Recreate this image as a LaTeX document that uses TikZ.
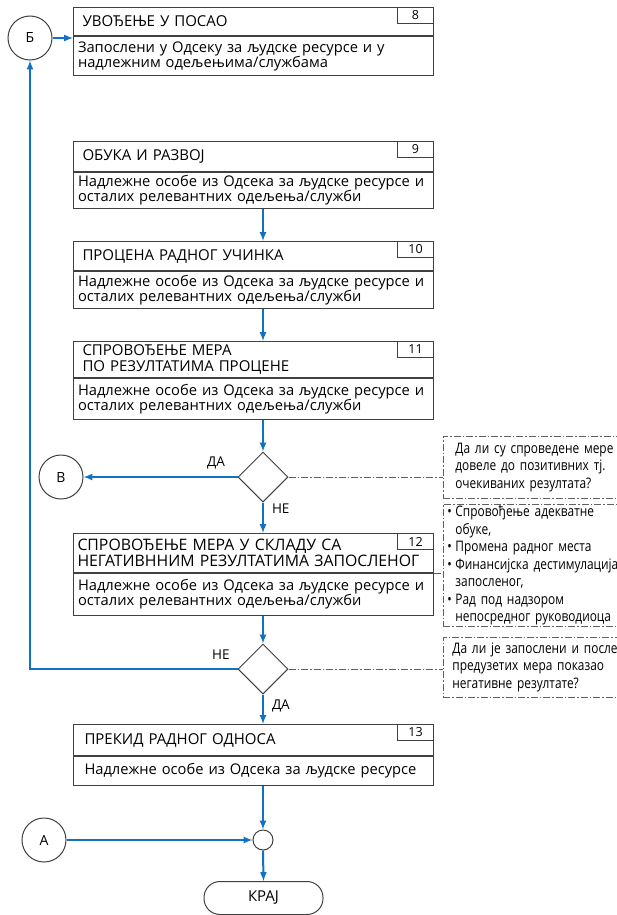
\documentclass[tikz,border=0pt]{standalone}
\usepackage{fontspec}
\setmainfont{Open Sans}
\newfontfamily\notefont[FakeStretch=0.82]{Open Sans}
\usepackage{xcolor}
\usepackage{tikz}
\usetikzlibrary{shapes,shapes.geometric}
\usetikzlibrary{calc,arrows,positioning}
\definecolor{flowblue}{RGB}{16,114,196}
\definecolor{linegray}{RGB}{64,64,64}
\definecolor{notegray}{RGB}{96,96,96}
\newcommand{\nbul}{\makebox[8pt][l]{•}}
\newcommand{\nind}{\hspace*{8pt}}
\tikzset{
  proc_t/.style = {rectangle, draw=linegray, line width=1pt, anchor=north west, text width=342pt, inner xsep=9pt, inner ysep=0pt, align=left, font=\fontsize{15}{16}\selectfont},
  proc_b/.style = {rectangle, draw=linegray, line width=1pt, text width=351pt, inner xsep=4.5pt, inner ysep=0pt, align=left, font=\fontsize{14.7}{15}\selectfont},
  proc_n/.style = {rectangle, draw=linegray, line width=1pt, anchor=north east, minimum width=36pt, minimum height=16pt, inner sep=0pt, font=\fontsize{12.5}{12.5}\selectfont},
  dec_n/.style = {diamond, draw=linegray, line width=1pt, minimum width=50pt, minimum height=50pt, inner sep=0pt},
  conn_n/.style = {circle, draw=linegray, line width=1pt, minimum size=44pt, inner sep=0pt, font=\fontsize{14}{14}\selectfont},
  join_n/.style = {circle, draw=linegray, line width=1pt, minimum size=20pt, inner sep=0pt},
  end_n/.style = {rectangle, rounded corners=16pt, draw=linegray, line width=1pt, minimum width=119pt, minimum height=33pt, font=\fontsize{15}{15}\selectfont},
  note_line/.style = {draw=notegray, line width=0.8pt, dash pattern=on 7pt off 2pt on 1.5pt off 2pt},
  note_n/.style = {rectangle, note_line, anchor=north west, text width=210pt, inner xsep=8pt, inner ysep=0pt, align=left, font=\notefont\fontsize{14.5}{17.5}\selectfont},
  flow/.style = {draw=flowblue, line width=2pt, -latex},
  lbl/.style = {inner sep=0pt, font=\fontsize{13.5}{13.5}\selectfont}
}
\begin{document}
\begin{tikzpicture}[x=1pt,y=-1pt]
	\useasboundingbox (0,0) rectangle (616,915);
	\node[proc_t, minimum height=28pt] (t8) at (73,7) {УВОЂЕЊЕ У ПОСАО};
	\node[proc_b, below=0pt of t8, minimum height=39pt] (b8) {Запослени у Одсеку за људске ресурсе и у\\надлежним одељењима/службама};
	\node[proc_n] (n8) at (t8.north east) {8};
	\node[proc_t, minimum height=30pt] (t9) at (73,141) {ОБУКА И РАЗВОЈ};
	\node[proc_b, below=0pt of t9, minimum height=36pt] (b9) {Надлежне особе из Одсека за људске ресурсе и\\осталих релевантних одељења/служби};
	\node[proc_n] (n9) at (t9.north east) {9};
	\node[proc_t, minimum height=29pt] (t10) at (73,241) {ПРОЦЕНА РАДНОГ УЧИНКА};
	\node[proc_b, below=0pt of t10, minimum height=37pt] (b10) {Надлежне особе из Одсека за људске ресурсе и\\осталих релевантних одељења/служби};
	\node[proc_n] (n10) at (t10.north east) {10};
	\node[proc_t, minimum height=36pt] (t11) at (73,341) {СПРОВОЂЕЊЕ МЕРА\\ПО РЕЗУЛТАТИМА ПРОЦЕНЕ};
	\node[proc_b, below=0pt of t11, minimum height=41pt] (b11) {Надлежне особе из Одсека за људске ресурсе и\\осталих релевантних одељења/служби};
	\node[proc_n] (n11) at (t11.north east) {11};
	\node[proc_t, minimum height=39pt, inner xsep=4pt, text width=352pt, font=\fontsize{15.8}{15.5}\selectfont] (t12) at (73,533) {СПРОВОЂЕЊЕ МЕРА У СКЛАДУ СА\\НЕГАТИВННИМ РЕЗУЛТАТИМА ЗАПОСЛЕНОГ};
	\node[proc_b, below=0pt of t12, minimum height=42pt] (b12) {Надлежне особе из Одсека за људске ресурсе и\\осталих релевантних одељења/служби};
	\node[proc_n] (n12) at (t12.north east) {12};
	\node[proc_t, minimum height=31pt, inner xsep=11pt, text width=338pt] (t13) at (73,724) {ПРЕКИД РАДНОГ ОДНОСА};
	\node[proc_b, below=0pt of t13, minimum height=29pt, inner xsep=11pt, text width=338pt] (b13) {Надлежне особе из Одсека за људске ресурсе};
	\node[proc_n] (n13) at (t13.north east) {13};
	\node[conn_n] (cB) at (30,38) {Б};
	\node[conn_n] (cV) at (61,477) {В};
	\node[conn_n] (cA) at (44,840) {А};
	\node[dec_n] (d1) at (263,477) {};
	\node[dec_n] (d2) at (263,669) {};
	\node[join_n] (jn) at (263,840) {};
	\node[end_n] (end) at (263.5,898) {КРАЈ};
	\node[note_n, minimum height=62pt, inner xsep=12pt] (q1) at (443,436) {Да ли су спроведене мере\\довеле до позитивних тј.\\очекиваних резултата?};
	\node[note_n, minimum height=122pt, inner xsep=4pt] (q2) at (443,504) {\nbul Спровођење адекватне\\\nind обуке,\\\nbul Промена радног места\\\nbul Финансијска дестимулација\\\nind запосленог,\\\nbul Рад под надзором\\\nind непосредног руководиоца};
	\node[note_n, minimum height=60pt, inner xsep=9pt] (q3) at (443,637) {Да ли је запослени и после\\предузетих мера показао\\негативне резултате?};
	\draw[flow] (cB.east) -- (cB.east -| t8.west);
	\draw[flow] (b9.south -| d1) -- (t10.north -| d1);
	\draw[flow] (b10.south -| d1) -- (t11.north -| d1);
	\draw[flow] (b11.south -| d1) -- (d1.north);
	\draw[flow] (d1.west) -- node[lbl, pos=0.14, above=7pt] {ДА} (cV.east);
	\draw[flow] (d1.south) -- node[lbl, pos=0.2, right=8pt] {НЕ} (t12.north -| d1);
	\draw[flow] (b12.south -| d2) -- (d2.north);
	\draw[flow] (d2.west) -- node[lbl, pos=0.08, above=9pt] {НЕ} (d2.west -| cB) -- (cB.south);
	\draw[flow] (d2.south) -- node[lbl, pos=0.39, right=8pt] {ДА} (t13.north -| d2);
	\draw[flow] (b13.south -| jn) -- (jn.north);
	\draw[flow] (cA.east) -- (jn.west);
	\draw[flow] (jn.south) -- (end.north);
	\draw[note_line] (d1.east) -- (d1.east -| q1.west);
	\draw[note_line] (b12.north east) -- (b12.north east -| q2.west);
	\draw[note_line] (d2.east) -- (d2.east -| q3.west);
\end{tikzpicture}
\end{document}
